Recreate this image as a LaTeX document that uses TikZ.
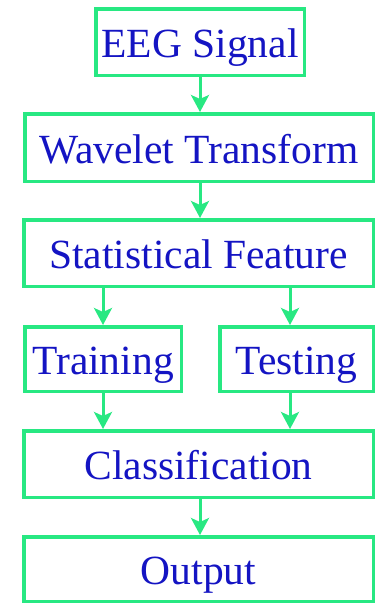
\documentclass[tikz,border=0pt]{standalone}
\usepackage{fontspec}
\setmainfont{Liberation Serif}
\usetikzlibrary{arrows.meta}
\definecolor{boxgreen}{RGB}{40,232,130}
\definecolor{txtblue}{RGB}{20,20,195}
\begin{document}
\begin{tikzpicture}[x=1pt,y=-1pt,
  stepbox/.style={draw=boxgreen,line width=3.5pt,fill=white,inner sep=0pt,
    text=txtblue,font=\fontsize{41.5}{48}\selectfont,text height=31pt,text depth=0pt},
  arr/.style={draw=boxgreen,line width=3pt,-{Stealth[length=17pt,width=18pt,inset=4pt]}}]
\useasboundingbox (0,0) rectangle (376,605);
\node[stepbox,minimum width=208.5pt,minimum height=66.5pt] (eeg) at (200,42) {EEG Signal};
\node[stepbox,minimum width=348.5pt,minimum height=67.5pt] (wav) at (199,147.5) {Wavelet Transform};
\node[stepbox,minimum width=349.5pt,minimum height=66.5pt] (stat) at (198.5,253) {Statistical Feature};
\node[stepbox,minimum width=156.5pt,minimum height=64.5pt] (train) at (103,359) {Training};
\node[stepbox,minimum width=153.5pt,minimum height=64.5pt] (test) at (296.5,359) {Testing};
\node[stepbox,minimum width=349.5pt,minimum height=66.5pt] (cls) at (198.5,464) {Classification};
\node[stepbox,minimum width=349.5pt,minimum height=64.5pt] (out) at (198.5,569) {Output};
\draw[arr] ([xshift=1pt]wav.north |- eeg.south) -- ([xshift=1pt]wav.north);
\draw[arr] ([xshift=1.5pt]stat.north |- wav.south) -- ([xshift=1.5pt]stat.north);
\draw[arr] (train.north |- stat.south) -- (train.north);
\draw[arr] ([xshift=-6.5pt]test.north |- stat.south) -- ([xshift=-6.5pt]test.north);
\draw[arr] (train.south) -- (train.south |- cls.north);
\draw[arr] ([xshift=-6.5pt]test.south) -- ([xshift=-6.5pt]test.south |- cls.north);
\draw[arr] ([xshift=1.5pt]cls.south) -- ([xshift=1.5pt]out.north);
\end{tikzpicture}
\end{document}
